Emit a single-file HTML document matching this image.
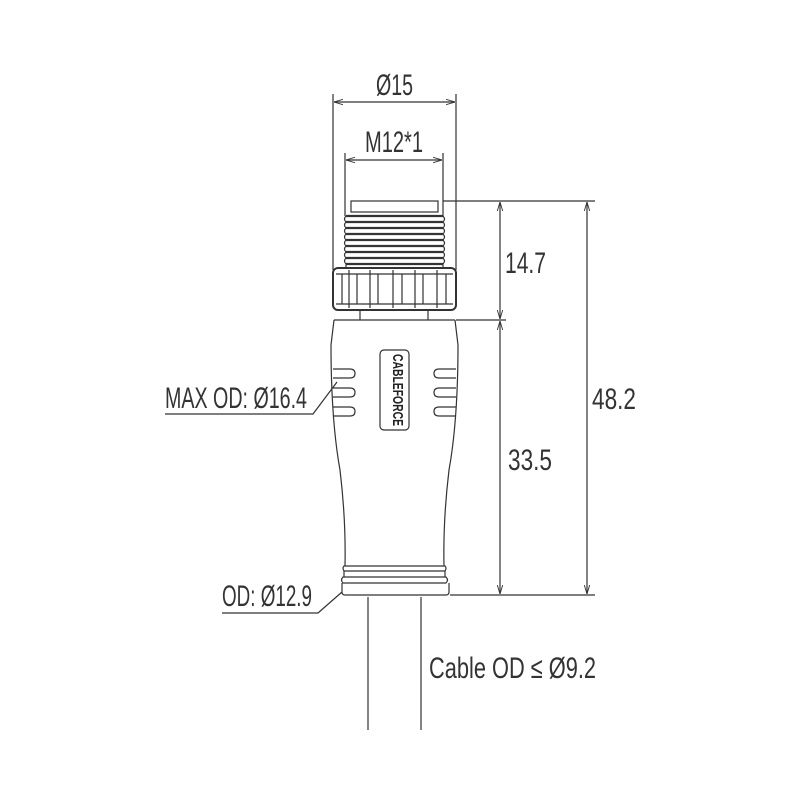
<!DOCTYPE html>
<html><head><style>html,body{margin:0;padding:0;background:#fff}svg{display:block}</style></head><body>
<svg width="801" height="801" viewBox="0 0 801 801" xmlns="http://www.w3.org/2000/svg">
<defs>
<marker id="a" viewBox="0 0 10 10" refX="10" refY="5" markerWidth="9" markerHeight="9" orient="auto-start-reverse" markerUnits="userSpaceOnUse"><path d="M0,2 L10,5 L0,8" fill="none" stroke="#333" stroke-width="1"/></marker>
</defs>
<g fill="none" stroke="#333" stroke-width="1.2">
<line x1="333" y1="94" x2="333" y2="270"/>
<line x1="456" y1="94" x2="456" y2="270"/>
<line x1="345" y1="153" x2="345" y2="216"/>
<line x1="443" y1="153" x2="443" y2="216"/>
<line x1="443" y1="201" x2="595" y2="201"/>
<line x1="456" y1="320" x2="506" y2="320"/>
<line x1="450" y1="595" x2="595" y2="595"/>
<line x1="334" y1="102" x2="455" y2="102" marker-start="url(#a)" marker-end="url(#a)"/>
<line x1="346" y1="160" x2="442" y2="160" marker-start="url(#a)" marker-end="url(#a)"/>
<line x1="500" y1="202" x2="500" y2="319" marker-start="url(#a)" marker-end="url(#a)"/>
<line x1="500" y1="321" x2="500" y2="594" marker-start="url(#a)" marker-end="url(#a)"/>
<line x1="587" y1="202" x2="587" y2="594" marker-start="url(#a)" marker-end="url(#a)"/>
<rect x="351" y="201" width="87" height="11"/>
<path d="M346,216 H443 M346,222 H443 M346,228 H443 M346,234 H443 M346,240 H443 M346,246 H443 M346,252 H443 M346,258 H443 M346,264 H443" stroke-width="2.2"/>
<path d="M346,216 Q343,219 346,222 Q343,225 346,228 Q343,231 346,234 Q343,237 346,240 Q343,243 346,246 Q343,249 346,252 Q343,255 346,258 Q343,261 346,264 L346,268"/>
<path d="M443,216 Q446,219 443,222 Q446,225 443,228 Q446,231 443,234 Q446,237 443,240 Q446,243 443,246 Q446,249 443,252 Q446,255 443,258 Q446,261 443,264 L443,268"/>
<rect x="333" y="268" width="123" height="42" rx="5" stroke-width="2"/>
<line x1="336" y1="274" x2="453" y2="274"/>
<line x1="336" y1="304" x2="453" y2="304"/>
<path d="M342,274 V304 M349,270 V308 M357,274 V304 M370,270 V308 M378,274 V304 M393,270 V308 M402,274 V304 M415,270 V308 M423,274 V304 M437,270 V308 M446,274 V304"/>
<line x1="360" y1="310" x2="360" y2="320"/>
<line x1="428" y1="310" x2="428" y2="320"/>
<line x1="334" y1="320" x2="455" y2="320"/>
<path d="M334,320 L331,345 Q331,420 340,470 Q346,520 345,566"/>
<path d="M455,320 L458,345 Q458,420 449,470 Q443,520 444,566"/>
<path d="M344,566 H445 Q447,568 445,571 H344 Q342,568 344,566 Z"/>
<line x1="344" y1="571" x2="344" y2="577"/><line x1="445" y1="571" x2="445" y2="577"/>
<path d="M343,577 H446 Q449,580 446,583 H343 Q340,580 343,577 Z"/>
<path d="M342,583 V592 Q342,595 345,595 H446 Q449,595 449,592 V583"/>
<path d="M333,369 H350 Q355,369 355,373.5 Q355,378 350,378 H333"/>
<path d="M333,388 H350 Q355,388 355,392.5 Q355,397 350,397 H333"/>
<path d="M333,407 H350 Q355,407 355,411.5 Q355,416 350,416 H333"/>
<path d="M456,369 H439 Q434,369 434,373.5 Q434,378 439,378 H456"/>
<path d="M456,388 H439 Q434,388 434,392.5 Q434,397 439,397 H456"/>
<path d="M456,407 H439 Q434,407 434,411.5 Q434,416 439,416 H456"/>
<rect x="380" y="350" width="29" height="80" rx="4"/>
<line x1="368" y1="597" x2="368" y2="730"/>
<line x1="421" y1="597" x2="421" y2="730"/>
<polyline points="165,414 313,414 337,382"/>
<polyline points="222,613 318,613 342,592"/>
</g>
<text x="0" y="0" transform="translate(388,354) rotate(90)" font-family="Liberation Sans, sans-serif" font-weight="bold" font-size="15" fill="#222" textLength="72" lengthAdjust="spacingAndGlyphs" dy="-5">CABLEFORCE</text>
<g font-family="Liberation Sans, sans-serif" font-size="30" fill="#333">
<text x="376" y="95" textLength="37" lengthAdjust="spacingAndGlyphs">Ø15</text>
<text x="365" y="152" textLength="58" lengthAdjust="spacingAndGlyphs">M12*1</text>
<text x="505" y="273" textLength="41" lengthAdjust="spacingAndGlyphs">14.7</text>
<text x="508" y="470" textLength="44" lengthAdjust="spacingAndGlyphs">33.5</text>
<text x="592" y="409" textLength="44" lengthAdjust="spacingAndGlyphs">48.2</text>
<text x="165" y="408" textLength="142" lengthAdjust="spacingAndGlyphs">MAX OD: Ø16.4</text>
<text x="222" y="606" textLength="90" lengthAdjust="spacingAndGlyphs">OD: Ø12.9</text>
<text x="429" y="678" textLength="167" lengthAdjust="spacingAndGlyphs">Cable OD ≤ Ø9.2</text>
</g>
</svg>
</body></html>
